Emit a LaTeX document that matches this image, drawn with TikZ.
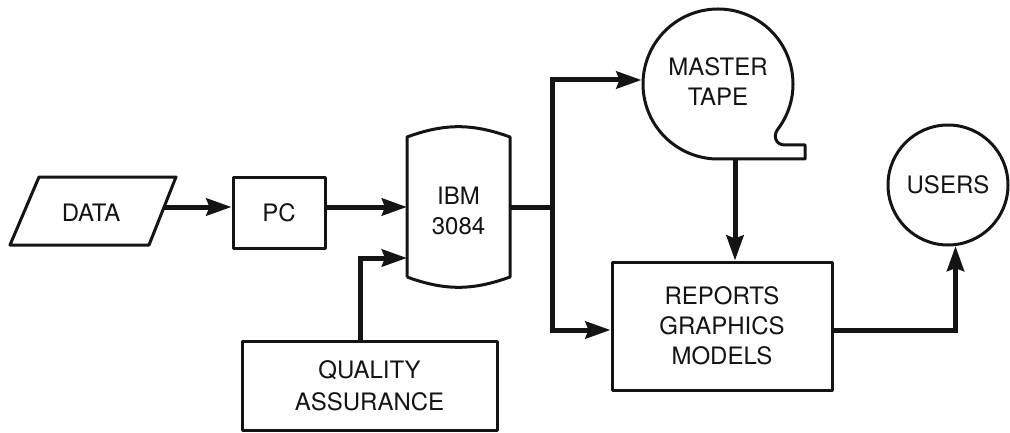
\documentclass[tikz,border=0pt]{standalone}
\usepackage{fontspec}
\setmainfont{TeX Gyre Heros}
\usetikzlibrary{arrows.meta,calc}
\definecolor{ink}{gray}{0.08}
\begin{document}
\begin{tikzpicture}[x=1pt,y=1pt,
  txt/.style={font=\fontsize{24}{30}\selectfont, align=center, inner sep=0pt, text=ink},
  outline/.style={draw=ink, line width=3pt, line join=round},
  box/.style={outline, txt, rectangle},
  flowline/.style={draw=ink, line width=5pt},
  flow/.style={flowline, -{Stealth[length=25pt,width=17pt,inset=3pt]}}
]
\fill[white] (0,0) rectangle (1010,432);
\useasboundingbox (0,0) rectangle (1010,432);

% input data (parallelogram)
\draw[outline] (10,187) -- (39,255) -- (176,255) -- (149,187) -- cycle;
\node[txt] (data) at (91,219) {DATA};
\coordinate (dataout) at (164,225);

% personal computer
\node[box, minimum width=92pt, minimum height=71pt] (pc) at (279,219.5) {PC};

% mainframe (storage symbol with bulging top and bottom)
\node[inner sep=0pt, outer sep=1.5pt, minimum width=100pt, minimum height=137pt] (ibm) at (458.5,225) {};
\draw[outline] (ibm.south west) -- (ibm.north west) to[bend left=20] (ibm.north east)
  -- (ibm.south east) to[bend left=20] (ibm.south west);
\node[txt] (ibmtext) at ([yshift=-4pt]ibm.center) {IBM\\3084};

% quality assurance
\node[box, minimum width=255pt, minimum height=89pt, font=\fontsize{24}{32}\selectfont] (qa) at (369.5,46.5) {QUALITY\\ASSURANCE};

% master tape (circle with tail)
\node[circle, inner sep=0pt, outer sep=0pt, minimum size=150pt] (tape) at (718,348) {};
\draw[outline] (tape.-37) arc[start angle=-37, end angle=270, radius=75pt]
  -- (805,273) -- (805,287) -- (785,287) .. controls (775,287) and (773,297) .. (tape.-37);
\node[txt] (tapetext) at (718,350) {MASTER\\TAPE};

% outputs
\node[box, minimum width=220pt, minimum height=128pt] (reports) at (722,106) {REPORTS\\GRAPHICS\\MODELS};
\node[outline, txt, circle, inner sep=0pt, minimum size=120pt] (users) at (948,247) {USERS};

% connectors
\coordinate (split) at (552,225);
\coordinate (qabend) at (360,174);
\coordinate (tapeout) at (735,273);

\draw[flow] (dataout) -- (dataout -| pc.west);
\draw[flow] (pc.east |- ibm.west) -- (ibm.west);
\draw[flow] (qabend |- qa.north) -- (qabend) -- (qabend -| ibm.west);
\draw[flowline] (ibm.east) -- (split);
\draw[flow] (split) |- ([xshift=-1.5pt,yshift=4pt]tape.west);
\draw[flow] (split) |- ([yshift=-4pt]reports.west);
\draw[flow] (tapeout) -- (tapeout |- reports.north);
\draw[flow] ([yshift=-4pt]reports.east) -| (users.-83);
\end{tikzpicture}
\end{document}
